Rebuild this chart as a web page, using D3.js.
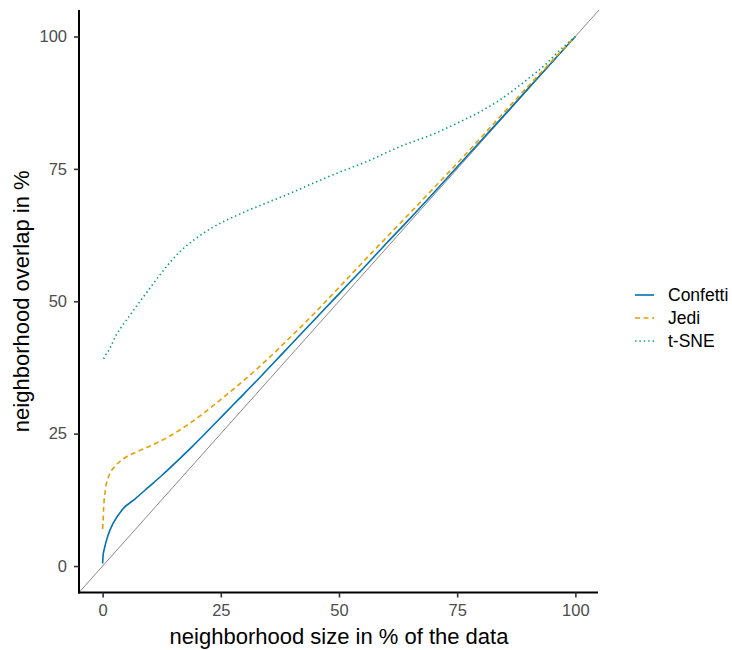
<!DOCTYPE html>
<html>
<head>
<meta charset="utf-8">
<script src="https://cdn.jsdelivr.net/npm/d3@7"></script>
<style>
  html, body { margin: 0; padding: 0; background: #fff; }
  svg { display: block; font-family: "Liberation Sans", Arial, sans-serif; }
</style>
</head>
<body>
<svg id="chart" width="732" height="650"></svg>
<script>
// ---- data ----
const seriesNames = ["Confetti", "Jedi", "t-SNE"];
const seriesColors = ["#0072B2", "#E69F00", "#009E73"];
const seriesDash = [null, "5,3.5", "1.4,3"];

const confettiX = [0, 0.1, 0.4, 1.1, 2.3, 4.1, 6.9, 9.7, 12.5, 16.1, 19, 22, 25.6, 29, 32.6, 36, 39.7, 43, 46.7, 50, 55, 60, 65, 70, 77, 84, 90, 95, 100];
const confettiY = [0.5, 2, 3.4, 5.7, 8.2, 10.6, 12.7, 14.9, 17.1, 20.1, 22.6, 25.3, 28.6, 31.7, 35.0, 38.2, 41.7, 44.8, 48.3, 51.4, 56.1, 60.9, 65.6, 70.45, 77.35, 84.2, 90.15, 95.1, 100];

const jediX = [0, 0.1, 0.2, 0.6, 1.3, 2.7, 4.8, 7.6, 11.1, 14.7, 18.2, 21.7, 25.6, 29, 32.6, 36, 39.7, 43, 46.7, 50, 55.9, 60, 64.3, 69, 74, 79, 84, 90, 95, 100];
const jediY = [7, 8.5, 10.7, 14.5, 17, 18.9, 20.5, 21.7, 23.1, 24.8, 26.8, 29.1, 31.9, 34.4, 37.2, 40.0, 43.2, 46.1, 49.5, 52.6, 58.2, 62.0, 66.0, 70.4, 75.1, 79.9, 84.8, 90.6, 95.35, 100];

const tsneX = [0.2, 0.6, 1.3, 1.8, 2.8, 4.1, 5.5, 7.6, 9.7, 11.8, 14.3, 16.4, 19.2, 23.2, 28.6, 33.9, 39.7, 43.5, 48.8, 55.9, 62.9, 70, 76.3, 80.5, 84, 89.7, 93.9, 96, 100];
const tsneY = [39.1, 39.8, 40.7, 41.6, 43.5, 45.3, 47.0, 49.6, 52.1, 54.6, 57.4, 59.4, 61.5, 63.9, 66.3, 68.3, 70.4, 71.9, 73.9, 76.4, 79.2, 81.6, 84.2, 86.1, 88.0, 91.8, 94.9, 96.8, 100];

const tickValues = [0, 25, 50, 75, 100];
const diagonal = [-5, 105];

const xTitle = "neighborhood size in % of the data";
const yTitle = "neighborhood overlap in %";

// ---- build ----
(function () {
  const series = [
    {name: seriesNames[0], xs: confettiX, ys: confettiY},
    {name: seriesNames[1], xs: jediX, ys: jediY},
    {name: seriesNames[2], xs: tsneX, ys: tsneY}
  ];

  const svg = d3.select("#chart");
  const pL = 79, pR = 599, pT = 10, pB = 592.5;

  const x = d3.scaleLinear().domain([-5, 105]).range([pL, pR]);
  const y = d3.scaleLinear().domain([-5, 105]).range([pB, pT]);

  // diagonal reference line
  svg.append("line")
    .attr("x1", x(diagonal[0])).attr("y1", y(diagonal[0]))
    .attr("x2", x(diagonal[1])).attr("y2", y(diagonal[1]))
    .attr("stroke", "#555").attr("stroke-width", 0.7);

  const line = d3.line()
    .x(d => x(d[0])).y(d => y(d[1]))
    .curve(d3.curveMonotoneX);

  series.forEach((s, i) => {
    const pts = s.xs.map((v, k) => [v, s.ys[k]]);
    svg.append("path")
      .datum(pts)
      .attr("d", line)
      .attr("fill", "none")
      .attr("stroke", seriesColors[i])
      .attr("stroke-width", 1.6)
      .attr("stroke-dasharray", seriesDash[i]);
  });

  // axes
  const xAxis = d3.axisBottom(x).tickValues(tickValues).tickSize(5).tickPadding(7);
  const yAxis = d3.axisLeft(y).tickValues(tickValues).tickSize(5).tickPadding(7);

  const gx = svg.append("g").attr("transform", `translate(0,${pB})`).call(xAxis);
  const gy = svg.append("g").attr("transform", `translate(${pL},0)`).call(yAxis);

  [gx, gy].forEach(g => {
    g.select(".domain").attr("stroke", "#000").attr("stroke-width", 2);
    g.selectAll(".tick line").attr("stroke", "#333").attr("stroke-width", 1.6);
    g.selectAll(".tick text").attr("fill", "#4d4d4d").attr("font-size", 16.5)
      .attr("font-family", "Liberation Sans, Arial, sans-serif");
  });
  gx.select(".domain").attr("d", `M${pL - 1},0H${pR - 1}`);
  gy.select(".domain").attr("d", `M0,${pT}V${pB + 1}`);

  // axis titles
  svg.append("text")
    .attr("x", (pL + pR) / 2).attr("y", 644)
    .attr("text-anchor", "middle")
    .attr("font-size", 22).attr("fill", "#000")
    .text(xTitle);

  svg.append("text")
    .attr("transform", `translate(29,${(pT + pB) / 2}) rotate(-90)`)
    .attr("text-anchor", "middle")
    .attr("font-size", 22).attr("fill", "#000")
    .text(yTitle);

  // legend
  const legendY = [295, 318, 341];
  const lg = svg.append("g");
  series.forEach((s, i) => {
    lg.append("line")
      .attr("x1", 635).attr("x2", 654)
      .attr("y1", legendY[i]).attr("y2", legendY[i])
      .attr("stroke", seriesColors[i]).attr("stroke-width", 1.6)
      .attr("stroke-dasharray", seriesDash[i]);
    lg.append("text")
      .attr("x", 668).attr("y", legendY[i])
      .attr("dy", "0.36em")
      .attr("font-size", 17.5).attr("fill", "#000")
      .text(s.name);
  });
})();
</script>
</body>
</html>
